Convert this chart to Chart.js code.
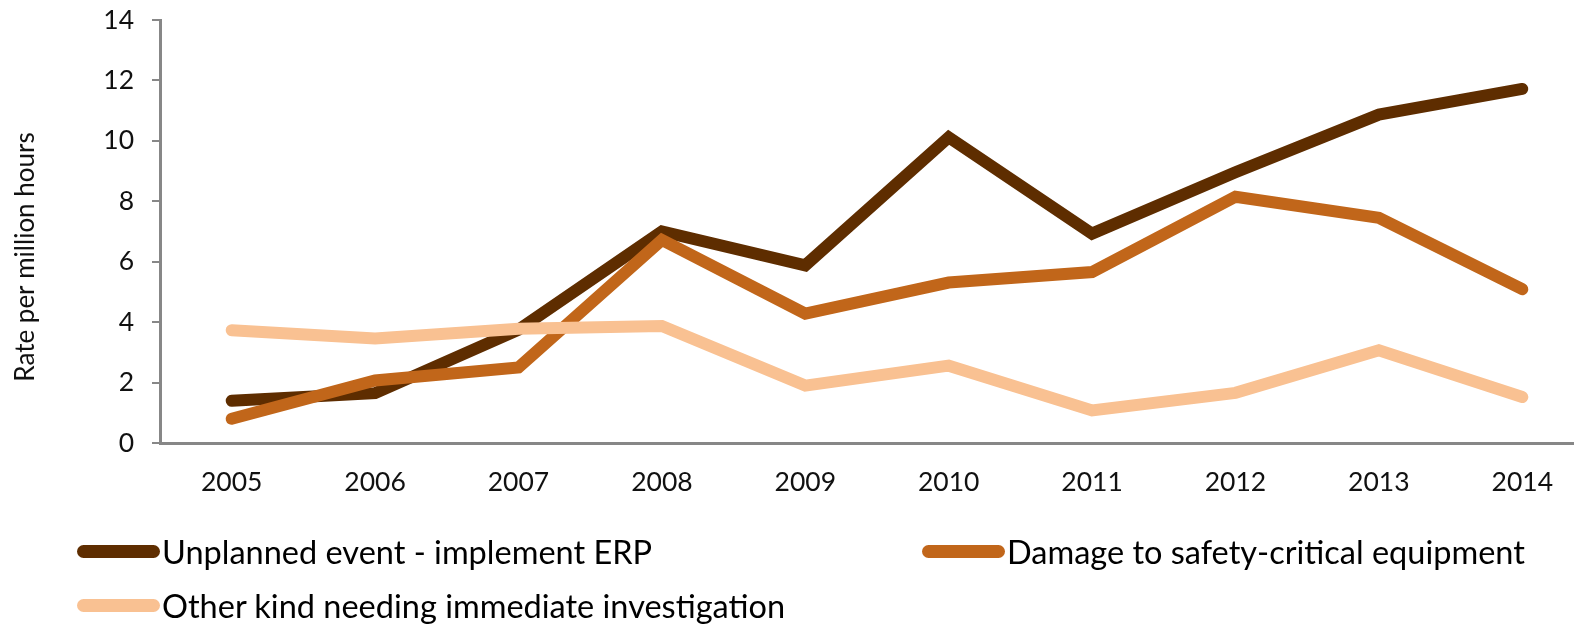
<!DOCTYPE html>
<html>
<head>
<meta charset="utf-8">
<script src="https://cdn.jsdelivr.net/npm/chart.js@4.4.1/dist/chart.umd.min.js"></script>
<style>
    html, body { margin: 0; padding: 0; background: #fff; }
    #wrap { position: relative; width: 1577px; height: 624px; }
    #legend .item {
        position: absolute; display: flex; align-items: center; height: 40px;
        font-family: Lato, sans-serif; font-size: 32.5px; color: #000; white-space: nowrap;
    }
    #legend .swatch { width: 83px; height: 13px; border-radius: 7px; margin-right: 2px; }
</style>
</head>
<body>
<div id="wrap">
    <canvas id="myLineChart" width="1577" height="624"></canvas>
    <div id="legend"></div>
</div>
<script>
const years = [2005, 2006, 2007, 2008, 2009, 2010, 2011, 2012, 2013, 2014];
const unplanned = [1.40, 1.65, 3.75, 7.0, 5.88, 10.12, 6.93, 8.96, 10.87, 11.72];
const damage = [0.80, 2.07, 2.50, 6.72, 4.28, 5.31, 5.66, 8.15, 7.45, 5.09];
const other = [3.73, 3.46, 3.78, 3.87, 1.90, 2.56, 1.08, 1.66, 3.07, 1.52];
const yTicks = [0, 2, 4, 6, 8, 10, 12, 14];
const yTitle = "Rate per million hours";

const seriesNames = [
    "Unplanned event - implement ERP",
    "Damage to safety-critical equipment",
    "Other kind needing immediate investigation"
];
const seriesColors = ["#5e2d00", "#c1661a", "#f9c192"];

// y title sits a little below the middle of the axis, as in the original
const yTitlePlugin = {
    id: 'yTitle',
    afterDraw(chart) {
        let c = chart.ctx;
        c.save();
        c.translate(26, 257);
        c.rotate(-Math.PI / 2);
        c.font = "26px Lato";
        c.fillStyle = "#111";
        c.textAlign = "center";
        c.textBaseline = "middle";
        c.fillText(yTitle, 0, 0);
        c.restore();
    }
};

document.addEventListener("DOMContentLoaded", function () {
    let toPoints = arr => arr.map((v, i) => ({ x: years[i], y: v }));

    let datasets = [unplanned, damage, other].map((arr, i) => ({
        label: seriesNames[i],
        data: toPoints(arr),
        borderColor: seriesColors[i],
        backgroundColor: seriesColors[i],
        borderWidth: 12,
        borderJoinStyle: 'miter',
        borderCapStyle: 'round',
        pointRadius: 0,
        tension: 0,
        order: 3 - i
    }));

    let ctx = document.getElementById("myLineChart").getContext('2d');
    window.myLineChart = new Chart(ctx, {
        type: 'line',
        data: { datasets: datasets },
        plugins: [yTitlePlugin],
        options: {
            responsive: false,
            animation: false,
            layout: { padding: { top: 20, right: 0, bottom: 0, left: 0 } },
            plugins: { legend: { display: false }, tooltip: { enabled: false } },
            scales: {
                x: {
                    type: 'linear',
                    min: 2004.5,
                    max: 2014.36,
                    afterFit: scale => { scale.height = 181; },
                    afterBuildTicks: scale => { scale.ticks = years.map(v => ({ value: v })); },
                    grid: { display: false, drawTicks: false },
                    border: { display: true, color: '#878787', width: 3 },
                    ticks: {
                        padding: 24,
                        color: '#111',
                        font: { family: 'Lato', size: 26.5 },
                        maxRotation: 0,
                        autoSkip: false,
                        callback: v => String(v)
                    }
                },
                y: {
                    min: 0,
                    max: 14,
                    afterFit: scale => {
                        scale.width = 160;
                        scale.paddingTop = 0;
                        scale.paddingBottom = 0;
                    },
                    afterBuildTicks: scale => { scale.ticks = yTicks.map(v => ({ value: v })); },
                    grid: { drawOnChartArea: false, drawTicks: true, tickLength: 8, color: '#878787', lineWidth: 2 },
                    border: { display: true, color: '#878787', width: 3 },
                    ticks: {
                        padding: 18,
                        color: '#111',
                        font: { family: 'Lato', size: 26.5 }
                    }
                }
            }
        }
    });

    // Excel-style legend laid out in two columns below the plot
    let legendPos = [{ left: 77, top: 531 }, { left: 922, top: 531 }, { left: 77, top: 585 }];
    let legend = document.getElementById("legend");
    seriesNames.forEach((name, i) => {
        let item = document.createElement("div");
        item.className = "item";
        item.style.left = legendPos[i].left + "px";
        item.style.top = legendPos[i].top + "px";
        let sw = document.createElement("span");
        sw.className = "swatch";
        sw.style.background = seriesColors[i];
        item.appendChild(sw);
        item.appendChild(document.createTextNode(name));
        legend.appendChild(item);
    });
});
</script>
</body>
</html>
